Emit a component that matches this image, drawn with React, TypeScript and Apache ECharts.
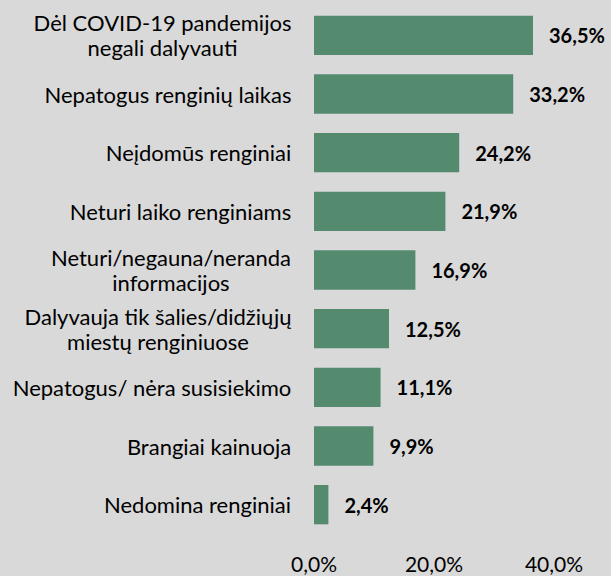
import React, { useEffect, useRef } from "react";
import * as echarts from "echarts";

const categories: string[] = [
  "Dėl COVID-19 pandemijos\nnegali dalyvauti",
  "Nepatogus renginių laikas",
  "Neįdomūs renginiai",
  "Neturi laiko renginiams",
  "Neturi/negauna/neranda\ninformacijos",
  "Dalyvauja tik šalies/didžiųjų\nmiestų renginiuose",
  "Nepatogus/ nėra susisiekimo",
  "Brangiai kainuoja",
  "Nedomina renginiai",
];
const values: number[] = [36.5, 33.2, 24.2, 21.9, 16.9, 12.5, 11.1, 9.9, 2.4];
const xTicks: number[] = [0, 20, 40];

const FONT = "Lato, 'Open Sans', sans-serif";
const LABEL_SIZE = 22;

function fmt(v: number): string {
  return v.toFixed(1).replace(".", ",") + "%";
}

export default function App() {
  const ref = useRef<HTMLDivElement>(null);
  useEffect(() => {
    document.body.style.margin = "0";
    if (!ref.current) return;
    const chart = echarts.init(ref.current, undefined, { renderer: "svg" });
    const canvas = document.createElement("canvas");
    const ctx = canvas.getContext("2d")!;
    ctx.font = `${LABEL_SIZE}px Lato`;
    const rich: Record<string, any> = {};
    categories.forEach((c, i) => {
      const w = Math.max(...c.split("\n").map((l) => ctx.measureText(l).width));
      rich["c" + i] = {
        width: Math.ceil(w) + 1,
        align: "center",
        fontSize: LABEL_SIZE,
        fontFamily: FONT,
        color: "#000",
        lineHeight: 25,
      };
    });
    chart.setOption({
      animation: false,
      backgroundColor: "#d9d9d9",
      grid: { left: 314, right: 57, top: 6, bottom: 42, containLabel: false },
      xAxis: {
        type: "value",
        min: xTicks[0],
        max: xTicks[xTicks.length - 1],
        interval: 20,
        splitLine: { show: false },
        axisLine: { show: false },
        axisTick: { show: false },
        axisLabel: {
          formatter: (v: number) => fmt(v),
          fontSize: 21,
          lineHeight: 21,
          fontFamily: FONT,
          color: "#000",
          margin: 19,
        },
      },
      yAxis: {
        type: "category",
        inverse: true,
        data: categories,
        axisLine: { show: false },
        axisTick: { show: false },
        axisLabel: {
          margin: 22,
          formatter: (v: string, i: number) =>
            v
              .split("\n")
              .map((l) => `{c${i}|${l}}`)
              .join("\n"),
          rich,
        },
      },
      series: [
        {
          type: "bar",
          data: values,
          barCategoryGap: "33%",
          itemStyle: { color: "#548a6d" },
          label: {
            show: true,
            position: "right",
            distance: 16,
            formatter: (p: any) => fmt(p.value),
            fontSize: 20,
            fontWeight: "bold",
            fontFamily: FONT,
            color: "#000",
          },
        },
      ],
    });
    return () => chart.dispose();
  }, []);
  return <div ref={ref} style={{ width: 611, height: 576 }} />;
}
